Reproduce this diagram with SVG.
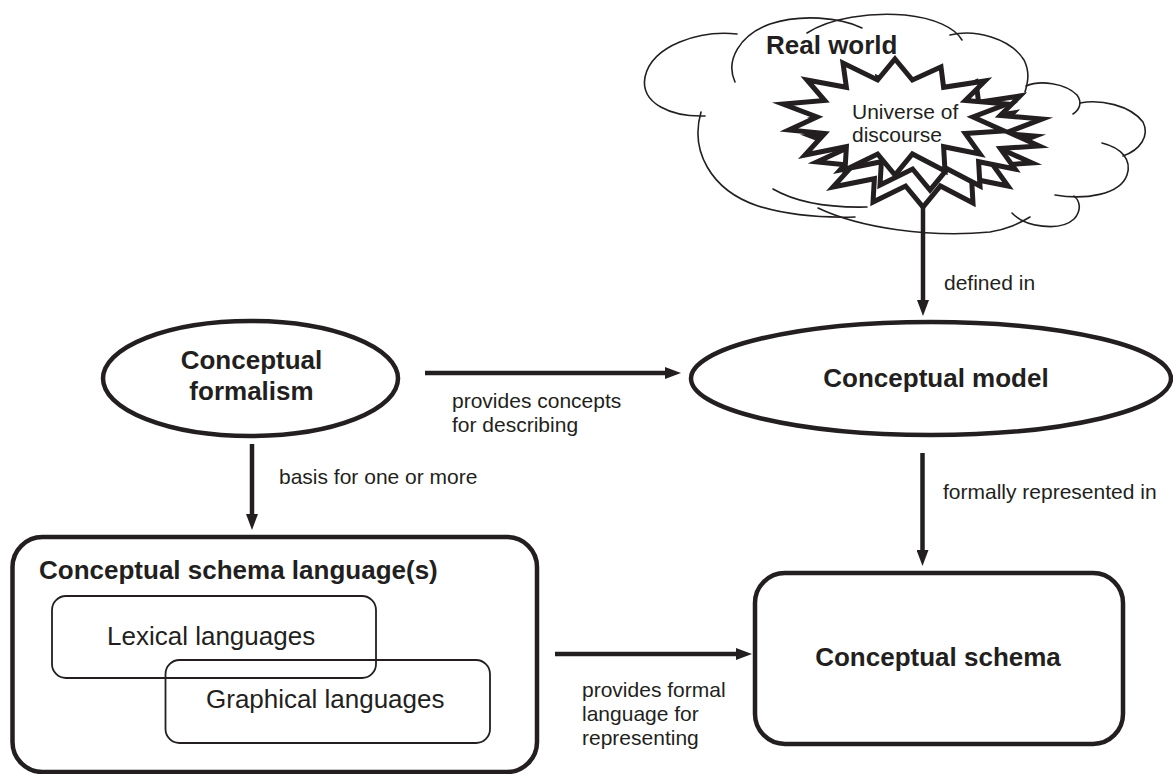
<svg xmlns="http://www.w3.org/2000/svg" xmlns:xlink="http://www.w3.org/1999/xlink" width="1173" height="774" viewBox="0 0 1173 774">
<style>
text{font-family:"Liberation Sans",Arial,Helvetica,sans-serif;fill:#231f20}
.b{font-weight:bold;font-size:26px}
.r{font-size:26px}
.l{font-size:21px}
.thick{fill:none;stroke:#231f20;stroke-width:4.5}
.thin{fill:none;stroke:#231f20;stroke-width:1.8}
.cl{fill:none;stroke:#231f20;stroke-width:1.6;stroke-linecap:round}
.conn{fill:none;stroke:#231f20;stroke-width:4.5}
.star{fill:#fff;stroke:#231f20;stroke-width:5;stroke-linejoin:miter;stroke-miterlimit:10}
</style>
<defs>
<marker id="ah" viewBox="0 0 16 12" refX="8" refY="6" markerWidth="16" markerHeight="12" markerUnits="userSpaceOnUse" orient="auto">
<path d="M0,0 L16,6 L0,12 Z" fill="#231f20"/>
</marker>
<path id="burst" d="M0,-58 L17.4,-37 L46,-50 L48.6,-29.7 L90,-36 L70.3,-16.5 L112,-12.9 L78,0 L109,14 L70.3,16.5 L85,37 L48.6,29.7 L50,54 L17.4,37 L0,58 L-17.4,37 L-50,53 L-48.6,29.7 L-90,38 L-70.3,16.5 L-106,13 L-78,0 L-112,-13 L-70.3,-16.5 L-88,-37 L-48.6,-29.7 L-52,-54 L-17.4,-37 Z"/>
</defs>
<rect width="1173" height="774" fill="#fff"/>

<g id="real-world">
<path class="cl" d="M737,34 C700,30 652,45 645,77 C640,104 672,117 705,116"/>
<path class="cl" d="M701,112 C690,150 710,190 758,206 C790,216 822,218 855,217"/>
<path class="cl" d="M773,189 C792,200 822,208 867,207"/>
<path class="cl" d="M818,208 C860,228 930,238 990,232 C1008,229 1018,224 1030,217"/>
<path class="cl" d="M1012,213 C1025,227 1060,232 1074,219 C1082,210 1080,201 1074,196"/>
<path class="cl" d="M1055,195 C1085,200 1120,195 1127,175 C1132,160 1122,148 1102,143"/>
<path class="cl" d="M1080,103 C1100,99 1130,105 1143,122 C1150,136 1140,150 1123,156"/>
<path class="cl" d="M1026,86 C1040,80 1065,83 1077,95 C1083,103 1079,110 1073,114"/>
<path class="cl" d="M950,35 C975,29 1010,38 1024,60 C1030,72 1028,82 1025,92"/>
<path class="cl" d="M807,33 C830,18 870,12 905,15 C935,18 955,28 962,40"/>
<path class="cl" d="M735,82 C725,60 740,35 770,24 C800,14 840,17 862,28"/>
<text class="b" x="766" y="54">Real world</text>
</g>

<g id="universe-of-discourse">
<use xlink:href="#burst" href="#burst" class="star" transform="translate(923,149)"/>
<use xlink:href="#burst" href="#burst" class="star" transform="translate(930,132)"/>
<use xlink:href="#burst" href="#burst" class="star" transform="translate(895,117)"/>
<text class="l" x="852" y="119" font-size="20.5">Universe of</text>
<text class="l" x="852" y="142" font-size="20.5">discourse</text>
</g>

<g id="conceptual-formalism">
<ellipse class="thick" cx="250.5" cy="378.5" rx="147.5" ry="57.5"/>
<text class="b" x="251.5" y="369" text-anchor="middle">Conceptual</text>
<text class="b" x="251.5" y="400" text-anchor="middle">formalism</text>
</g>

<g id="conceptual-model">
<ellipse class="thick" cx="931" cy="378.5" rx="240" ry="56.5"/>
<text class="b" x="936" y="387" text-anchor="middle">Conceptual model</text>
</g>

<g id="conceptual-schema-languages">
<rect class="thick" x="12.5" y="537" width="524.5" height="235" rx="30" ry="30"/>
<text class="b" x="39" y="579">Conceptual schema language(s)</text>
<rect class="thin" x="52" y="596" width="324" height="82" rx="14" ry="14"/>
<text class="r" x="107" y="645">Lexical languages</text>
<rect class="thin" x="165.5" y="660" width="324.5" height="83" rx="14" ry="14"/>
<text class="r" x="206" y="708">Graphical languages</text>
</g>

<g id="conceptual-schema">
<rect class="thick" x="755" y="573" width="368" height="171" rx="30" ry="30"/>
<text class="b" x="938" y="666" text-anchor="middle">Conceptual schema</text>
</g>

<g id="connectors">
<line class="conn" x1="252" y1="444" x2="252" y2="522" marker-end="url(#ah)"/>
<line class="conn" x1="425" y1="373" x2="673" y2="373" marker-end="url(#ah)"/>
<line class="conn" x1="923" y1="205" x2="923" y2="308" marker-end="url(#ah)"/>
<line class="conn" x1="922.5" y1="453" x2="922.5" y2="558" marker-end="url(#ah)"/>
<line class="conn" x1="555" y1="654" x2="744" y2="654" marker-end="url(#ah)"/>
<text class="l" x="279" y="484">basis for one or more</text>
<text class="l" x="452" y="408">provides concepts</text>
<text class="l" x="452" y="432">for describing</text>
<text class="l" x="944" y="290">defined in</text>
<text class="l" x="943" y="499">formally represented in</text>
<text class="l" x="582" y="697">provides formal</text>
<text class="l" x="582" y="721">language for</text>
<text class="l" x="582" y="745">representing</text>
</g>
</svg>
